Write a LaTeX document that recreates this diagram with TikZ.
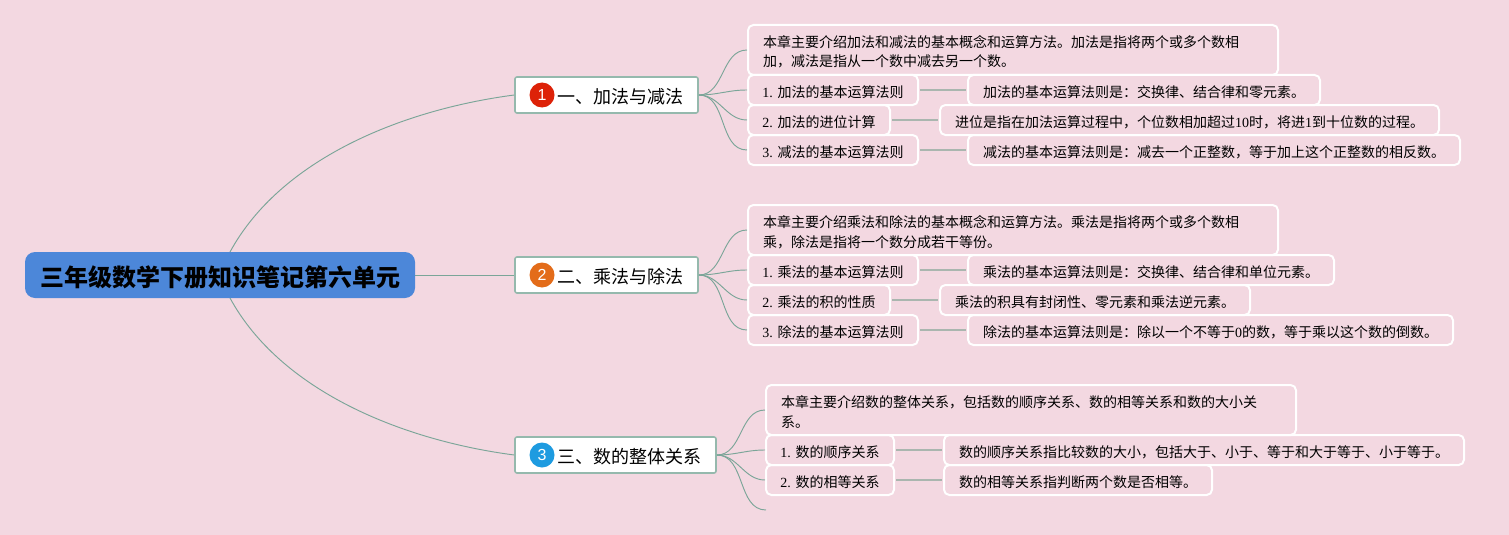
\documentclass[tikz,border=0pt]{standalone}
\usepackage{fontspec}
\setmainfont{Liberation Serif}
\setsansfont{Liberation Sans}
\newfontfamily\cjk{Noto Sans CJK SC}
\newcommand{\lat}[1]{{\rmfamily #1}}
\definecolor{pagebg}{HTML}{F3D8E1}
\definecolor{rootblue}{HTML}{4C87D9}
\definecolor{curvegreen}{HTML}{7AA598}
\definecolor{boxgreen}{HTML}{95B9AD}
\definecolor{stemgray}{HTML}{AAB6AF}
\definecolor{badgeone}{HTML}{DD2208}
\definecolor{badgetwo}{HTML}{E36C1A}
\definecolor{badgethree}{HTML}{1E9BE0}
\tikzset{
	boxw/.style={minimum width=#1*0.75pt},
	rootbox/.style={rectangle,fill=rootblue,rounded corners=7.5pt,minimum height=34.5pt,boxw=390,text height=19pt,text depth=2.5pt,font=\cjk\bfseries\fontsize{18}{22}\selectfont},
	branchbox/.style={rectangle,fill=white,draw=boxgreen,line width=1.2pt,rounded corners=1.5pt,minimum height=27pt,inner sep=0pt,text height=13.5pt,text depth=1.4pt,font=\cjk\fontsize{13.5}{16}\selectfont},
	leafbox/.style={rectangle,draw=white,line width=1.5pt,rounded corners=4pt,minimum height=22.5pt,inner sep=0pt,text height=11.9pt,text depth=1pt,font=\cjk\fontsize{10.5}{14.5}\selectfont},
	introbox/.style={leafbox,minimum height=37.5pt,text width=375pt,inner xsep=11.25pt,align=left,text height=11pt,text depth=14.5pt},
	badge/.style={circle,minimum size=18.75pt,inner sep=0pt,text=white,font=\sffamily\fontsize{12}{12}\selectfont},
	curve/.style={draw=curvegreen,line width=0.7pt},
	stem/.style={draw=stemgray,line width=1.5pt,shorten <=1pt,shorten >=1pt}
	}
\begin{document}
\begin{tikzpicture}[x=0.75pt,y=-0.75pt]
          \fill[pagebg] (0,0) rectangle (1509,535);
          \useasboundingbox (0,0) rectangle (1509,535);

          \node[rootbox] (root) at (220,275) {三年级数学下册知识笔记第六单元};
          \coordinate (roottop) at (230,252);
          \coordinate (rootbot) at (230,298);

          \node[branchbox,boxw=183] (add) at (606.5,95) {\hspace*{21pt}一、加法与减法};
          \node[branchbox,boxw=183] (mul) at (606.5,275) {\hspace*{21pt}二、乘法与除法};
          \node[branchbox,boxw=201] (rel) at (615.5,455) {\hspace*{21pt}三、数的整体关系};
          \node[badge,fill=badgeone] (addno) at (542,95) {1};
          \node[badge,fill=badgetwo] (mulno) at (542,275) {2};
          \node[badge,fill=badgethree] (relno) at (542,455) {3};

          \node[introbox] (addintro) at (1013,50) {本章主要介绍加法和减法的基本概念和运算方法。加法是指将两个或多个数相\\加，减法是指从一个数中减去另一个数。};
          \node[leafbox,boxw=170] (add1) at (833,90) {\lat{1. }加法的基本运算法则};
          \node[leafbox,boxw=352] (add1d) at (1144,90) {加法的基本运算法则是：交换律、结合律和零元素。};
          \node[leafbox,boxw=142] (add2) at (819,120) {\lat{2. }加法的进位计算};
          \node[leafbox,boxw=499] (add2d) at (1189.5,120) {进位是指在加法运算过程中，个位数相加超过\lat{10}时，将进\lat{1}到十位数的过程。};
          \node[leafbox,boxw=170] (add3) at (833,150) {\lat{3. }减法的基本运算法则};
          \node[leafbox,boxw=492] (add3d) at (1214,150) {减法的基本运算法则是：减去一个正整数，等于加上这个正整数的相反数。};

          \node[introbox] (mulintro) at (1013,230) {本章主要介绍乘法和除法的基本概念和运算方法。乘法是指将两个或多个数相\\乘，除法是指将一个数分成若干等份。};
          \node[leafbox,boxw=170] (mul1) at (833,270) {\lat{1. }乘法的基本运算法则};
          \node[leafbox,boxw=366] (mul1d) at (1151,270) {乘法的基本运算法则是：交换律、结合律和单位元素。};
          \node[leafbox,boxw=142] (mul2) at (819,300) {\lat{2. }乘法的积的性质};
          \node[leafbox,boxw=310] (mul2d) at (1095,300) {乘法的积具有封闭性、零元素和乘法逆元素。};
          \node[leafbox,boxw=170] (mul3) at (833,330) {\lat{3. }除法的基本运算法则};
          \node[leafbox,boxw=485] (mul3d) at (1210.5,330) {除法的基本运算法则是：除以一个不等于\lat{0}的数，等于乘以这个数的倒数。};

          \node[introbox] (relintro) at (1031,410) {本章主要介绍数的整体关系，包括数的顺序关系、数的相等关系和数的大小关\\系。};
          \node[leafbox,boxw=128] (rel1) at (830,450) {\lat{1. }数的顺序关系};
          \node[leafbox,boxw=520] (rel1d) at (1204,450) {数的顺序关系指比较数的大小，包括大于、小于、等于和大于等于、小于等于。};
          \node[leafbox,boxw=128] (rel2) at (830,480) {\lat{2. }数的相等关系};
          \node[leafbox,boxw=268] (rel2d) at (1078,480) {数的相等关系指判断两个数是否相等。};
          \coordinate (relend) at (766,510);

          \draw[curve] (roottop) .. controls (280,160) and (400,110) .. (add.west);
          \draw[curve] (root.east) -- (mul.west);
          \draw[curve] (rootbot) .. controls (280,390) and (400,440) .. (rel.west);

          \draw[curve] (add.east) to[out=0,in=180] (addintro.west);
          \draw[curve] (add.east) to[out=0,in=180] (add1.west);
          \draw[curve] (add.east) to[out=0,in=180] (add2.west);
          \draw[curve] (add.east) to[out=0,in=180] (add3.west);
          \draw[curve] (mul.east) to[out=0,in=180] (mulintro.west);
          \draw[curve] (mul.east) to[out=0,in=180] (mul1.west);
          \draw[curve] (mul.east) to[out=0,in=180] (mul2.west);
          \draw[curve] (mul.east) to[out=0,in=180] (mul3.west);
          \draw[curve] (rel.east) to[out=0,in=180] (relintro.west);
          \draw[curve] (rel.east) to[out=0,in=180] (rel1.west);
          \draw[curve] (rel.east) to[out=0,in=180] (rel2.west);
          \draw[curve] (rel.east) to[out=0,in=180] (relend);

          \draw[stem] (add1) -- (add1d);
          \draw[stem] (add2) -- (add2d);
          \draw[stem] (add3) -- (add3d);
          \draw[stem] (mul1) -- (mul1d);
          \draw[stem] (mul2) -- (mul2d);
          \draw[stem] (mul3) -- (mul3d);
          \draw[stem] (rel1) -- (rel1d);
          \draw[stem] (rel2) -- (rel2d);
        \end{tikzpicture}
\end{document}
